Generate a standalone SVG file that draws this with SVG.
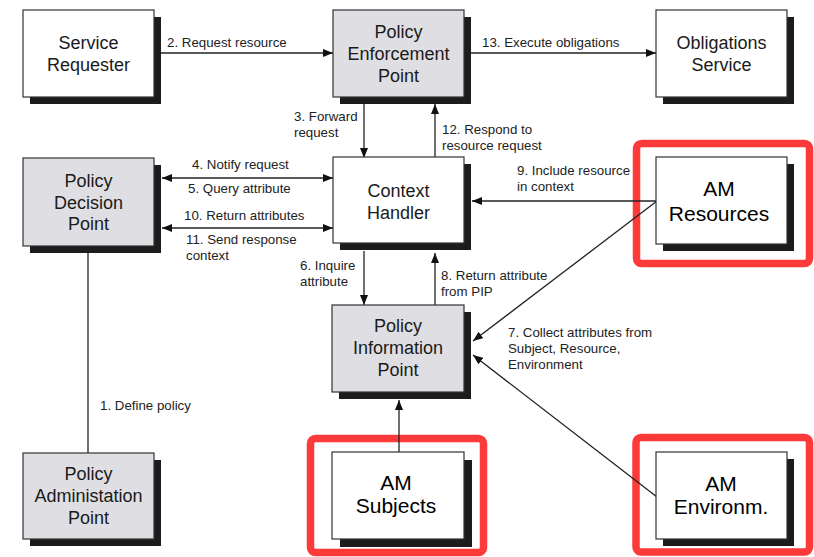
<svg xmlns="http://www.w3.org/2000/svg" width="814" height="557" viewBox="0 0 814 557">
<defs>
<style>
.box{stroke:#333;stroke-width:1.2}
.w{fill:#fff}
.g{fill:#dfdfe3}
.sh{fill:#1c1c1c}
.t{font-family:"Liberation Sans",Arial,sans-serif;font-size:18px;fill:#1a1a1a;text-anchor:middle}
.am{font-family:"Liberation Sans",Arial,sans-serif;font-size:21px;fill:#000;text-anchor:middle}
.l{font-family:"Liberation Sans",Arial,sans-serif;font-size:13.3px;fill:#222}
.c{stroke:#222;stroke-width:1.3;fill:none}
.red{fill:none;stroke:#fd3a3a;stroke-width:7.5}
</style>
<marker id="ah" viewBox="0 0 10 8" refX="10" refY="4" markerWidth="10" markerHeight="8" markerUnits="userSpaceOnUse" orient="auto-start-reverse">
<path d="M0,0 L10,4 L0,8 Z" fill="#111"/>
</marker>
</defs>
<rect width="814" height="557" fill="#fff"/>

<g id="highlights">
<rect class="red" x="636.5" y="143.5" width="173" height="120" rx="5"/>
<rect class="red" x="636" y="437.5" width="173.5" height="114.5" rx="5"/>
<rect class="red" x="310.5" y="438.5" width="173" height="114" rx="5"/>
</g>

<g id="connectors">
<line class="c" x1="154" y1="53" x2="333" y2="53" marker-end="url(#ah)"/>
<text class="l" x="167" y="47">2. Request resource</text>
<line class="c" x1="465" y1="53" x2="656" y2="53" marker-end="url(#ah)"/>
<text class="l" x="482" y="47">13. Execute obligations</text>
<line class="c" x1="364" y1="104" x2="364" y2="158" marker-end="url(#ah)"/>
<text class="l" x="294" y="121">3. Forward</text>
<text class="l" x="294" y="137">request</text>
<line class="c" x1="435" y1="158" x2="435" y2="104" marker-end="url(#ah)"/>
<text class="l" x="442" y="134">12. Respond to</text>
<text class="l" x="442" y="150">resource request</text>
<line class="c" x1="162" y1="178" x2="333" y2="178" marker-start="url(#ah)" marker-end="url(#ah)"/>
<text class="l" x="192" y="169">4. Notify request</text>
<text class="l" x="188" y="193">5. Query attribute</text>
<line class="c" x1="162" y1="228" x2="333" y2="228" marker-start="url(#ah)" marker-end="url(#ah)"/>
<text class="l" x="184" y="220">10. Return attributes</text>
<text class="l" x="186" y="244">11. Send response</text>
<text class="l" x="186" y="260">context</text>
<line class="c" x1="88" y1="253" x2="88" y2="453"/>
<text class="l" x="100" y="410">1. Define policy</text>
<line class="c" x1="364" y1="251" x2="364" y2="305" marker-end="url(#ah)"/>
<text class="l" x="300" y="270">6. Inquire</text>
<text class="l" x="300" y="286">attribute</text>
<line class="c" x1="435" y1="305" x2="435" y2="253" marker-end="url(#ah)"/>
<text class="l" x="441" y="280">8. Return attribute</text>
<text class="l" x="441" y="296">from PIP</text>
<line class="c" x1="657" y1="201" x2="472" y2="201" marker-end="url(#ah)"/>
<text class="l" x="517" y="175">9. Include resource</text>
<text class="l" x="517" y="191">in context</text>
<line class="c" x1="657" y1="201" x2="473" y2="341" marker-end="url(#ah)"/>
<line class="c" x1="657" y1="497" x2="473" y2="355" marker-end="url(#ah)"/>
<text class="l" x="508" y="337">7. Collect attributes from</text>
<text class="l" x="508" y="353">Subject, Resource,</text>
<text class="l" x="508" y="369">Environment</text>
<line class="c" x1="399" y1="452" x2="399" y2="400" marker-end="url(#ah)"/>
</g>

<g id="service-requester">
<rect class="sh" x="30" y="17" width="131" height="87"/>
<rect class="box w" x="23" y="10" width="131" height="87"/>
<text class="t" x="88.5" y="49">Service</text>
<text class="t" x="88.5" y="71">Requester</text>
</g>

<g id="pep">
<rect class="sh" x="340" y="17" width="131" height="87"/>
<rect class="box g" x="333" y="10" width="131" height="87"/>
<text class="t" x="398.5" y="38">Policy</text>
<text class="t" x="398.5" y="60">Enforcement</text>
<text class="t" x="398.5" y="82">Point</text>
</g>

<g id="obligations-service">
<rect class="sh" x="663" y="17" width="131" height="87"/>
<rect class="box w" x="656" y="10" width="131" height="87"/>
<text class="t" x="721.5" y="49">Obligations</text>
<text class="t" x="721.5" y="71">Service</text>
</g>

<g id="pdp">
<rect class="sh" x="30" y="165" width="131" height="88"/>
<rect class="box g" x="23" y="158" width="131" height="88"/>
<text class="t" x="88.5" y="187">Policy</text>
<text class="t" x="88.5" y="208.5">Decision</text>
<text class="t" x="88.5" y="230">Point</text>
</g>

<g id="context-handler">
<rect class="sh" x="340" y="164" width="131" height="86"/>
<rect class="box w" x="333" y="157" width="131" height="86"/>
<text class="t" x="398.5" y="197">Context</text>
<text class="t" x="398.5" y="219">Handler</text>
</g>

<g id="am-resources">
<rect class="sh" x="663" y="164" width="131" height="87"/>
<rect class="box w" x="656" y="157" width="131" height="87"/>
<text class="am" x="719" y="196">AM</text>
<text class="am" x="719" y="220.5">Resources</text>
</g>

<g id="pip">
<rect class="sh" x="339" y="312" width="132" height="87"/>
<rect class="box g" x="332" y="305" width="132" height="87"/>
<text class="t" x="398" y="332">Policy</text>
<text class="t" x="398" y="354">Information</text>
<text class="t" x="398" y="375.5">Point</text>
</g>

<g id="pap">
<rect class="sh" x="30" y="460" width="131" height="86"/>
<rect class="box g" x="23" y="453" width="131" height="86"/>
<text class="t" x="88.5" y="480">Policy</text>
<text class="t" x="88.5" y="502">Administation</text>
<text class="t" x="88.5" y="523.5">Point</text>
</g>

<g id="am-subjects">
<rect class="sh" x="340" y="460" width="132" height="87"/>
<rect class="box w" x="332" y="452" width="132" height="87"/>
<text class="am" x="396" y="490">AM</text>
<text class="am" x="396" y="512.5">Subjects</text>
</g>

<g id="am-environment">
<rect class="sh" x="663" y="459" width="131" height="87"/>
<rect class="box w" x="656" y="452" width="131" height="87"/>
<text class="am" x="721" y="491">AM</text>
<text class="am" x="721" y="514">Environm.</text>
</g>
</svg>
